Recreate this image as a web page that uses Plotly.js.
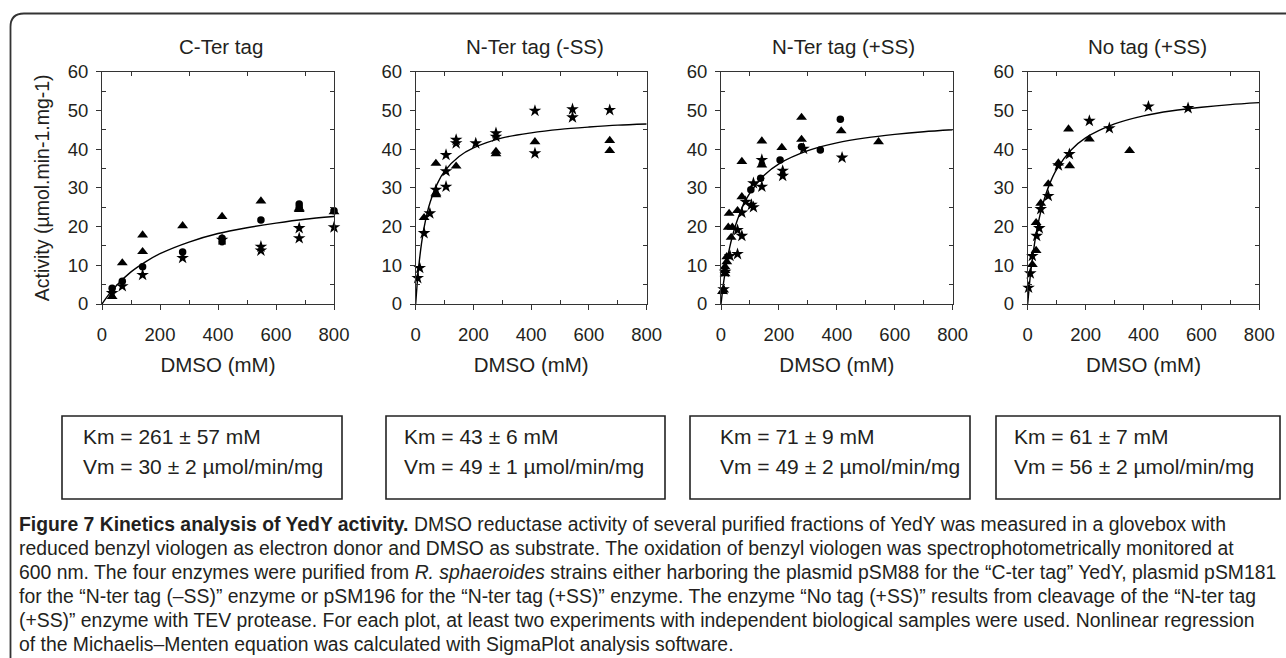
<!DOCTYPE html>
<html><head><meta charset="utf-8">
<script src="https://cdn.plot.ly/plotly-3.0.1.min.js"></script>
<style>html,body{margin:0;padding:0;background:#fff;} #chart{width:1286px;height:658px;}</style>
</head><body><div id="chart"></div>
<script>
// ---------- DATA ----------
const panelTitles = ["C-Ter tag", "N-Ter tag (-SS)", "N-Ter tag (+SS)", "No tag (+SS)"];
const xAxisTitle = "DMSO (mM)";
const yAxisTitle = "Activity (µmol.min-1.mg-1)";
const xTickVals = [0, 200, 400, 600, 800];
const yTickVals = [0, 10, 20, 30, 40, 50, 60];
const kmLabels = ["Km = 261 ± 57 mM", "Km = 43 ± 6 mM", "Km = 71 ± 9 mM", "Km = 61 ± 7 mM"];
const vmLabels = ["Vm = 30 ± 2 µmol/min/mg", "Vm = 49 ± 1 µmol/min/mg", "Vm = 49 ± 2 µmol/min/mg", "Vm = 56 ± 2 µmol/min/mg"];

// Panel 1: C-Ter tag
const p1TriX = [35, 70, 140, 140, 278, 414, 548, 680, 680, 800];
const p1TriY = [1.9, 10.6, 17.8, 13.5, 20.2, 22.6, 26.6, 24.7, 24.4, 23.8];
const p1CirX = [35, 70, 140, 278, 414, 414, 548, 680, 680, 800];
const p1CirY = [4.1, 5.9, 9.6, 13.4, 17.0, 16.1, 21.7, 25.8, 25.0, 24.1];
const p1StarX = [35, 70, 140, 278, 414, 548, 548, 680, 680, 800];
const p1StarY = [2.8, 4.6, 7.5, 11.9, 16.6, 14.8, 13.8, 19.6, 17.0, 19.8];
const p1FitX = [0, 25, 50, 100, 150, 200, 300, 400, 500, 600, 700, 800];
const p1FitY = [0, 2.6, 4.8, 8.3, 10.9, 13.0, 16.0, 18.2, 19.7, 20.9, 21.9, 22.6];

// Panel 2: N-Ter tag (-SS)
const p2TriX = [29, 70, 70, 70, 140, 278, 278, 413, 672, 672];
const p2TriY = [22.3, 36.3, 28.6, 28.2, 35.6, 39.4, 38.8, 41.9, 42.2, 39.6];
const p2CirX = [];
const p2CirY = [];
const p2StarX = [7, 14, 29, 49, 70, 105, 105, 105, 140, 140, 208, 278, 278, 413, 413, 543, 543, 672];
const p2StarY = [6.7, 9.3, 18.3, 23.4, 29.5, 38.5, 34.3, 30.3, 42.4, 41.5, 41.5, 44.1, 43.2, 49.9, 38.9, 50.3, 48.2, 50.1];
const fitX = [0, 5, 10, 20, 30, 40, 50, 75, 100, 150, 200, 300, 400, 500, 600, 700, 800];
const p2FitY = [0, 5.1, 9.3, 15.6, 20.1, 23.6, 26.3, 31.1, 34.3, 38.1, 40.3, 42.9, 44.2, 45.1, 45.7, 46.2, 46.5];

// Panel 3: N-Ter tag (+SS)
const p3TriX = [5, 9, 14, 14, 14, 20, 20, 25, 28, 35, 39, 57, 72, 72, 141, 141, 210, 278, 278, 415, 544];
const p3TriY = [3.2, 3.6, 9.6, 8.6, 7.8, 12.2, 10.9, 19.8, 23.4, 17.2, 19.8, 24.1, 27.7, 36.8, 35.9, 42.1, 40.4, 48.2, 42.5, 44.7, 41.9];
const p3CirX = [103, 137, 204, 278, 343, 412];
const p3CirY = [29.5, 32.5, 37.2, 40.6, 39.8, 47.7];
const p3StarX = [9, 14, 31, 57, 57, 72, 72, 85, 105, 112, 112, 141, 141, 213, 213, 285, 418];
const p3StarY = [3.8, 8.3, 12.4, 12.9, 19.1, 17.6, 23.6, 26.4, 25.6, 25.0, 31.2, 30.3, 37.2, 34.4, 33.1, 40.1, 37.8];
const p3FitY = [0, 3.2, 6.1, 10.8, 14.6, 17.7, 20.3, 25.2, 28.7, 33.3, 36.2, 39.6, 41.6, 42.9, 43.8, 44.5, 45.0];

// Panel 4: No tag (+SS)
const p4TriX = [16, 29, 29, 45, 71, 106, 145, 141, 213, 352];
const p4TriY = [10.2, 13.8, 21.0, 26.0, 31.0, 36.4, 35.7, 45.2, 42.6, 39.6];
const p4CirX = [];
const p4CirY = [];
const p4StarX = [3, 9, 16, 31, 40, 45, 71, 106, 144, 213, 282, 417, 554];
const p4StarY = [4.2, 7.9, 12.4, 17.6, 19.6, 24.5, 27.9, 35.8, 38.7, 47.3, 45.4, 51.0, 50.6];
const p4FitY = [0, 4.2, 7.9, 13.8, 18.5, 22.2, 25.2, 30.9, 34.8, 39.8, 42.9, 46.5, 48.6, 49.9, 50.8, 51.5, 52.0];

const captionLines = [
  "<b>Figure 7 Kinetics analysis of YedY activity.</b> DMSO reductase activity of several purified fractions of YedY was measured in a glovebox with",
  "reduced benzyl viologen as electron donor and DMSO as substrate. The oxidation of benzyl viologen was spectrophotometrically monitored at",
  "600 nm. The four enzymes were purified from <i>R. sphaeroides</i> strains either harboring the plasmid pSM88 for the “C-ter tag” YedY, plasmid pSM181",
  "for the “N-ter tag (–SS)” enzyme or pSM196 for the “N-ter tag (+SS)” enzyme. The enzyme “No tag (+SS)” results from cleavage of the “N-ter tag",
  "(+SS)” enzyme with TEV protease. For each plot, at least two experiments with independent biological samples were used. Nonlinear regression",
  "of the Michaelis–Menten equation was calculated with SigmaPlot analysis software."
];

// ---------- LAYOUT ----------
const W = 1286, H = 658;
const px = v => v / W;
const py = v => 1 - v / H;
const INK = '#231f20';
const FONT = 'Liberation Sans, Arial, Helvetica, sans-serif';

// fit a font size so that a given plain string spans a target width
function fitSize(str, family, target, weight) {
  const c = document.createElement('canvas').getContext('2d');
  c.font = (weight || 'normal') + ' 100px ' + family;
  const w = c.measureText(str).width;
  return w > 0 ? 100 * target / w : 18;
}
const plain = s => s.replace(/<[^>]+>/g, '');
const capSize = Math.max(16, Math.min(21, fitSize(plain(captionLines[2]), FONT, 1258)));
const boxSize = Math.max(16, Math.min(21, fitSize(vmLabels[0], FONT, 243)));

const panels = [
  {tx: p1TriX, ty: p1TriY, cx: p1CirX, cy: p1CirY, sx: p1StarX, sy: p1StarY, fx: p1FitX, fy: p1FitY},
  {tx: p2TriX, ty: p2TriY, cx: p2CirX, cy: p2CirY, sx: p2StarX, sy: p2StarY, fx: fitX, fy: p2FitY},
  {tx: p3TriX, ty: p3TriY, cx: p3CirX, cy: p3CirY, sx: p3StarX, sy: p3StarY, fx: fitX, fy: p3FitY},
  {tx: p4TriX, ty: p4TriY, cx: p4CirX, cy: p4CirY, sx: p4StarX, sy: p4StarY, fx: fitX, fy: p4FitY}
];
const domX = [[102, 334], [415.7, 646.7], [721, 952.7], [1027.7, 1259.3]];
const plotTop = 71.7, plotBottom = 304;
const titleX = [221, 535, 843, 1147];
const boxes = [[62, 342], [386, 665], [690, 970], [996, 1280]];
const boxTextX = [81, 402, 718, 1012];

const traces = [];
const layout = {
  width: W, height: H,
  margin: {l: 0, r: 0, t: 0, b: 0},
  paper_bgcolor: '#fff', plot_bgcolor: '#fff',
  showlegend: false,
  font: {family: FONT, color: INK, size: 18},
  annotations: [], shapes: []
};

panels.forEach((p, i) => {
  const n = i + 1;
  const xid = n === 1 ? 'x' : 'x' + n;
  const yid = n === 1 ? 'y' : 'y' + n;
  const xTop = 'x' + (n + 4), yRight = 'y' + (n + 4);
  const base = {xaxis: xid, yaxis: yid, showlegend: false, hoverinfo: 'x+y', cliponaxis: false};
  traces.push(Object.assign({}, base, {type: 'scatter', mode: 'lines', x: p.fx, y: p.fy,
    line: {color: '#000', width: 1.4, shape: 'spline', smoothing: 0.8}}));
  traces.push(Object.assign({}, base, {type: 'scatter', mode: 'markers', x: p.tx, y: p.ty,
    marker: {symbol: 'triangle-up', size: 9.5, color: '#000', line: {width: 0}}}));
  traces.push(Object.assign({}, base, {type: 'scatter', mode: 'markers', x: p.cx, y: p.cy,
    marker: {symbol: 'circle', size: 7.5, color: '#000', line: {width: 0}}}));
  traces.push(Object.assign({}, base, {type: 'scatter', mode: 'markers', x: p.sx, y: p.sy,
    marker: {symbol: 'star', size: 9.5, color: '#000', line: {width: 0}}}));
  // helper traces so the mirrored minor-tick axes are drawn
  traces.push({type: 'scatter', mode: 'markers', x: [null], y: [null], xaxis: xTop, yaxis: yid, showlegend: false, hoverinfo: 'skip'});
  traces.push({type: 'scatter', mode: 'markers', x: [null], y: [null], xaxis: xid, yaxis: yRight, showlegend: false, hoverinfo: 'skip'});

  const dx = [px(domX[i][0]), px(domX[i][1])];
  const dy = [py(plotBottom), py(plotTop)];
  layout['xaxis' + (n === 1 ? '' : n)] = {
    domain: dx, anchor: yid, range: [0, 800], autorange: false, fixedrange: true,
    tickmode: 'array', tickvals: xTickVals, ticks: 'outside', ticklen: 5, tickwidth: 1, tickcolor: '#333',
    ticklabelstandoff: 9,
    minor: {tickmode: 'linear', tick0: 100, dtick: 200, ticks: 'inside', ticklen: 4, tickwidth: 1, tickcolor: '#333', showgrid: false},
    showline: true, linecolor: '#333', linewidth: 1, showgrid: false, zeroline: false,
    tickfont: {family: FONT, size: 18.5, color: INK},
    title: {text: xAxisTitle, font: {family: FONT, size: 20.5, color: INK}, standoff: 13}
  };
  layout['yaxis' + (n === 1 ? '' : n)] = {
    domain: dy, anchor: xid, range: [0, 60], autorange: false, fixedrange: true,
    tickmode: 'array', tickvals: yTickVals, ticks: 'outside', ticklen: 5, tickwidth: 1, tickcolor: '#333',
    ticklabelstandoff: 4,
    minor: {tickmode: 'linear', tick0: 5, dtick: 10, ticks: 'inside', ticklen: 4, tickwidth: 1, tickcolor: '#333', showgrid: false},
    showline: true, linecolor: '#333', linewidth: 1, showgrid: false, zeroline: false,
    tickfont: {family: FONT, size: 18.5, color: INK},
    title: n === 1 ? {text: yAxisTitle, font: {family: FONT, size: 19.5, color: INK}, standoff: 12} : {text: ''}
  };
  layout['xaxis' + (n + 4)] = {
    overlaying: xid, side: 'top', anchor: yid, range: [0, 800], autorange: false, fixedrange: true,
    tickmode: 'linear', tick0: 100, dtick: 200, ticks: 'inside', ticklen: 4, tickwidth: 1, tickcolor: '#333',
    showticklabels: false, showline: true, linecolor: '#333', linewidth: 1, showgrid: false, zeroline: false
  };
  layout['yaxis' + (n + 4)] = {
    overlaying: yid, side: 'right', anchor: xid, range: [0, 60], autorange: false, fixedrange: true,
    tickmode: 'linear', tick0: 5, dtick: 10, ticks: 'inside', ticklen: 4, tickwidth: 1, tickcolor: '#333',
    showticklabels: false, showline: true, linecolor: '#333', linewidth: 1, showgrid: false, zeroline: false
  };

  // panel title
  layout.annotations.push({xref: 'paper', yref: 'paper', x: px(titleX[i]), y: py(46), xanchor: 'center', yanchor: 'middle',
    text: panelTitles[i], showarrow: false, font: {family: FONT, size: 20.5, color: INK}});

  // parameter box
  layout.shapes.push({type: 'rect', xref: 'paper', yref: 'paper', x0: px(boxes[i][0]), x1: px(boxes[i][1]),
    y0: py(499), y1: py(416), line: {color: '#222', width: 1.6}, fillcolor: 'rgba(0,0,0,0)'});
  layout.annotations.push({xref: 'paper', yref: 'paper', x: px(boxTextX[i]), y: py(436), xanchor: 'left', yanchor: 'middle',
    text: kmLabels[i], showarrow: false, font: {family: FONT, size: boxSize, color: INK}});
  layout.annotations.push({xref: 'paper', yref: 'paper', x: px(boxTextX[i]), y: py(466), xanchor: 'left', yanchor: 'middle',
    text: vmLabels[i], showarrow: false, font: {family: FONT, size: boxSize, color: INK}});
});

// caption
const capY = [524, 548, 572, 596, 620, 644];
captionLines.forEach((t, k) => {
  layout.annotations.push({xref: 'paper', yref: 'paper', x: px(17), y: py(capY[k]), xanchor: 'left', yanchor: 'middle',
    text: t, showarrow: false, font: {family: FONT, size: capSize, color: '#231f20'}});
});

// outer rounded frame
layout.shapes.push({type: 'path', xref: 'paper', yref: 'paper', layer: 'above',
  path: `M ${px(10.5)},${py(700)} L ${px(10.5)},${py(27)} Q ${px(10.5)},${py(13.5)} ${px(24)},${py(13.5)} L ${px(1300)},${py(13.5)}`,
  line: {color: '#333', width: 1.8}});

Plotly.newPlot('chart', traces, layout, {staticPlot: true, displayModeBar: false});
</script>
</body></html>
